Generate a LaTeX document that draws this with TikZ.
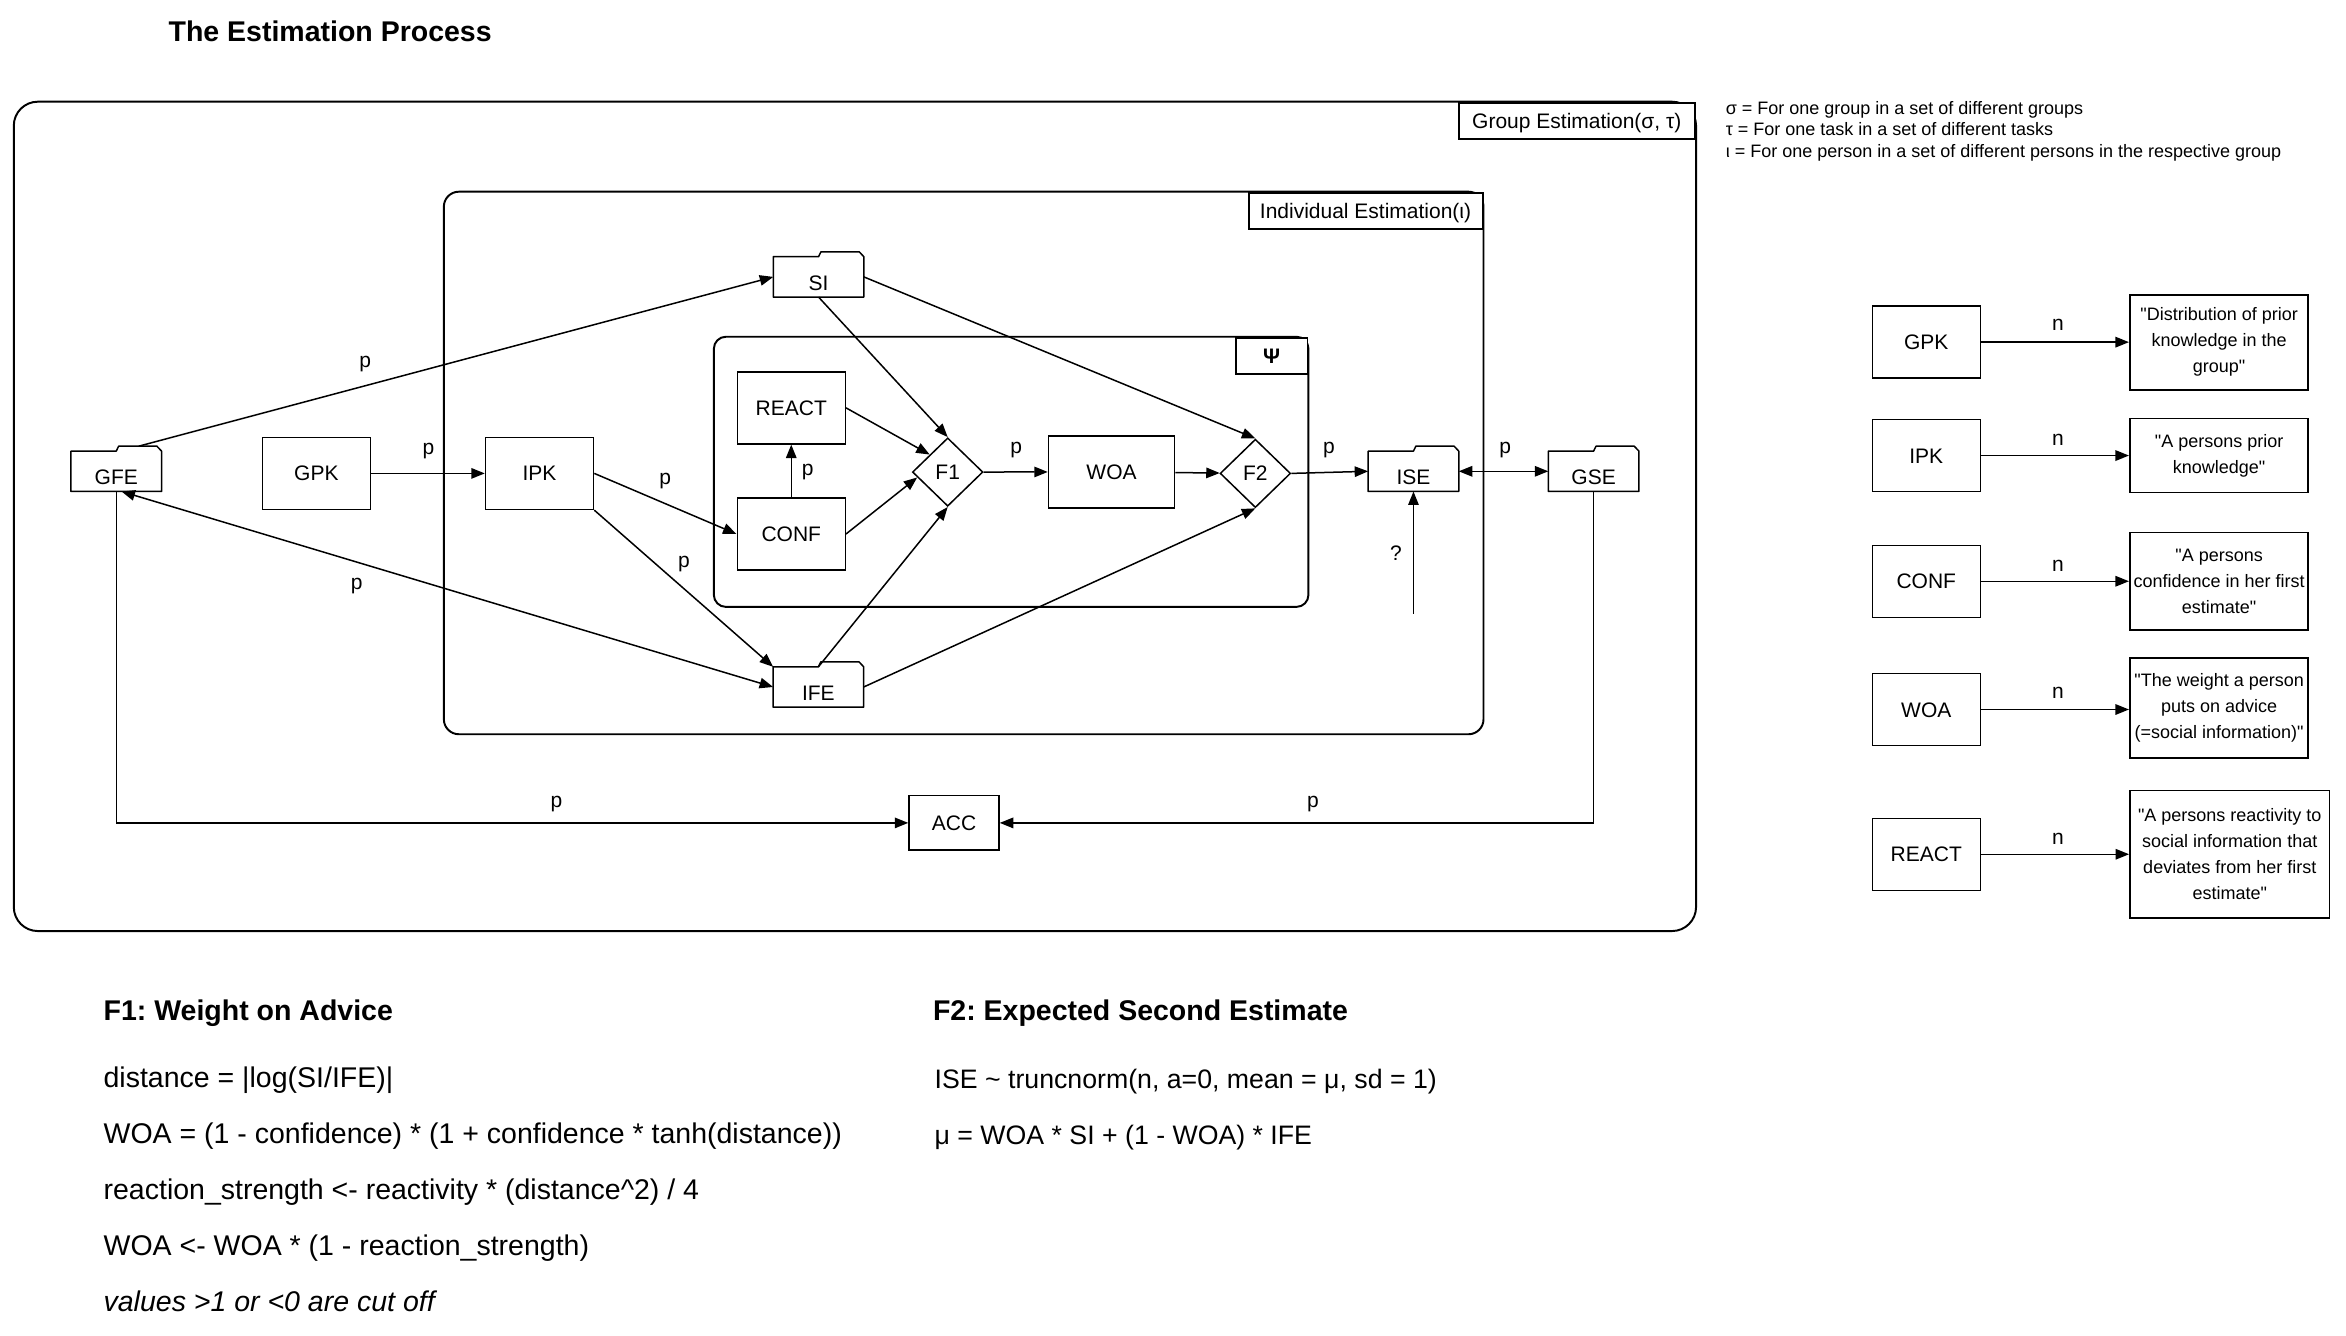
\documentclass[tikz,border=0pt]{standalone}
\usepackage{fontspec}
\setmainfont{Liberation Sans}[Ligatures=TeXOff]
\usetikzlibrary{arrows.meta}
\usetikzlibrary{shapes.geometric}
\frenchspacing

% folder shaped estimate node: name, position, text
\newcommand{\folder}[3]{%
  \node[fold] (#1) at (#2) {#3};
  \draw[line, line join=round] (#1.north west) -- (#1.north)
    -- ([xshift=1.6pt,yshift=3.3pt]#1.north)
    -- ([xshift=-3.1pt,yshift=3.3pt]#1.north east) -- (#1.north east)
    -- (#1.south east) -- (#1.south west) -- cycle;
}

\begin{document}
\begin{tikzpicture}[
  x=1pt, y=-1pt,
  line/.style = {line width=1pt},
  >={Triangle[length=9pt,width=7pt]},
  every node/.style = {font=\fontsize{14}{17}\selectfont},
  box/.style = {draw, line width=1pt, minimum width=72pt, minimum height=48pt,
    inner sep=0pt, text height=10pt, text depth=0pt},
  fold/.style = {minimum width=60pt, minimum height=26.5pt, inner sep=0pt,
    text height=18pt, text depth=0pt},
  decide/.style = {draw, diamond, line width=1pt, minimum width=47pt,
    minimum height=45.6pt, inner sep=0pt},
  frame/.style = {draw, line width=1.3pt},
  tag/.style = {draw, fill=white, line width=1.3pt, anchor=north east,
    minimum height=24.2pt, inner sep=0pt, text height=10pt, text depth=0pt},
  desc/.style = {draw, line width=1.2pt, align=center, inner sep=0pt,
    minimum width=119pt, font=\fontsize{12}{17.4}\selectfont},
  lbl/.style = {anchor=base, inner sep=0pt},
  txt/.style = {anchor=base west, inner sep=0pt, font=\fontsize{19}{23}\selectfont},
  scale=1
]
  \useasboundingbox (0,0) rectangle (1564,890.67);

  \node[anchor=base west, inner sep=0pt, font=\bfseries\fontsize{19}{23}\selectfont]
    (title) at (112.2,27.8) {The Estimation Process};

  % containers
  \draw[frame, rounded corners=16pt] (9.2,67.8) rectangle (1130.7,620.7);
  \node[tag, minimum width=157.7pt] (grpTag) at (1130.7,67.8) {Group Estimation(σ, τ)};
  \draw[frame, rounded corners=10pt] (295.9,127.8) rectangle (989,489.5);
  \node[tag, minimum width=156pt] (indTag) at (989,127.8) {Individual Estimation(ι)};
  \draw[frame, rounded corners=8pt] (475.9,224.5) rectangle (872.3,404.6);
  \node[tag, minimum width=47.8pt, font=\bfseries\fontsize{14}{17}\selectfont]
    (psiTag) at (872.3,224.5) {Ψ};

  % nodes
  \folder{GFE}{77.5,314.2}{GFE}
  \folder{SI}{545.7,184.6}{SI}
  \folder{IFE}{545.6,458}{IFE}
  \folder{ISE}{942.3,314.2}{ISE}
  \folder{GSE}{1062.4,314.2}{GSE}
  \node[box] (GPK) at (210.9,315.6) {GPK};
  \node[box] (IPK) at (359.7,315.6) {IPK};
  \node[box] (REACT) at (527.5,271.9) {REACT};
  \node[box] (CONF) at (527.5,356) {CONF};
  \node[box, minimum width=84pt] (WOA) at (741,314.6) {WOA};
  \node[box, minimum width=60pt, minimum height=36.3pt] (ACC) at (636,548.6) {ACC};
  \node[decide] (F1) at (631.8,314.7) {F1};
  \node[decide] (F2) at (836.9,315.6) {F2};
  \coordinate (qEnd) at (942.3,409);

  % connectors
  \draw[line,->] ([xshift=15pt,yshift=3.3pt]GFE.north) -- (SI.west);
  \draw[line,->] (GPK) -- (IPK);
  \draw[line,->] (IPK.east) -- (CONF.west);
  \draw[line,->] (IPK.south east) -- (IFE.north west);
  \draw[line,<->] ([xshift=3.5pt]GFE.south) -- (IFE.west);
  \draw[line,->] (CONF) -- (REACT);
  \draw[line,->] (REACT.east) -- (F1.north west);
  \draw[line,->] (CONF.east) -- (F1.190);
  \draw[line,->] (SI.south) -- (F1.north);
  \draw[line,->] (IFE.north) -- (F1.south);
  \draw[line,->] (SI.east) -- (F2.north);
  \draw[line,->] (IFE.east) -- (F2.south);
  \draw[line,->] (F1) -- (WOA);
  \draw[line,->] (WOA) -- (F2);
  \draw[line,->] (F2.east) -- (ISE.west);
  \draw[line,<->] (ISE.east) -- (GSE.west);
  \draw[line,->] (qEnd) -- (ISE.south);
  \draw[line,->] (GFE.south) |- (ACC.west);
  \draw[line,->] (GSE.south) |- (ACC.east);

  % edge labels
  \node[lbl] (pGfeSi) at (243.5,245) {p};
  \node[lbl] (pGpkIpk) at (285.7,303) {p};
  \node[lbl] (pIpkConf) at (443.4,322.7) {p};
  \node[lbl] (pIpkIfe) at (456,378) {p};
  \node[lbl] (pGfeIfe) at (237.8,392.7) {p};
  \node[lbl] (pConfReact) at (538.4,317) {p};
  \node[lbl] (pFoneWoa) at (677.5,302.5) {p};
  \node[lbl] (pFtwoIse) at (885.9,302.5) {p};
  \node[lbl] (pIseGse) at (1003.5,302.5) {p};
  \node[lbl] (qMark) at (930.6,373.7) {?};
  \node[lbl] (pGfeAcc) at (371,538.5) {p};
  \node[lbl] (pGseAcc) at (875.3,538.5) {p};

  % legend
  \node[anchor=base west, inner sep=0pt, font=\fontsize{12}{14}\selectfont]
    (legSigma) at (1150.3,76.2) {σ = For one group in a set of different groups};
  \node[anchor=base west, inner sep=0pt, font=\fontsize{12}{14}\selectfont]
    (legTau) at (1150.3,90.5) {τ = For one task in a set of different tasks};
  \node[anchor=base west, inner sep=0pt, font=\fontsize{12}{14}\selectfont]
    (legIota) at (1150.3,104.8) {ι = For one person in a set of different persons in the respective group};

  % variable descriptions
  \node[box] (gpkR) at (1284.2,228.1) {GPK};
  \node[desc, minimum height=63.3pt] (gpkD) at (1479.4,228.1)
    {"Distribution of prior\\knowledge in the\\group"};
  \node[box] (ipkR) at (1284.2,303.7) {IPK};
  \node[desc, minimum height=49.3pt] (ipkD) at (1479.4,303.7)
    {"A persons prior\\knowledge"};
  \node[box] (confR) at (1284.2,387.5) {CONF};
  \node[desc, minimum height=65pt] (confD) at (1479.4,387.5)
    {"A persons\\confidence in her first\\estimate"};
  \node[box] (woaR) at (1284.2,473) {WOA};
  \node[desc, minimum height=67pt] (woaD) at (1479.4,472)
    {"The weight a person\\puts on advice\\(=social information)"};
  \node[box] (reactR) at (1284.2,569.5) {REACT};
  \node[desc, minimum height=85pt, minimum width=133pt] (reactD) at (1486.5,569.5)
    {"A persons reactivity to\\social information that\\deviates from her first\\estimate"};

  \draw[line,->] (gpkR) -- (gpkD);
  \draw[line,->] (ipkR) -- (ipkD);
  \draw[line,->] (confR) -- (confD);
  \draw[line,->] (woaR.east) -- (woaR.east -| woaD.west);
  \draw[line,->] (reactR) -- (reactD);
  \node[lbl] (nGpk) at (1371.9,220) {n};
  \node[lbl] (nIpk) at (1371.9,296.7) {n};
  \node[lbl] (nConf) at (1371.9,381) {n};
  \node[lbl] (nWoa) at (1371.9,465.6) {n};
  \node[lbl] (nReact) at (1371.9,562.9) {n};

  % formulas
  \node[txt, font=\bfseries\fontsize{19}{23}\selectfont] (fOneHead) at (68.9,680.5) {F1: Weight on Advice};
  \node[txt] (fOneA) at (68.9,725) {distance = |log(SI/IFE)|};
  \node[txt] (fOneB) at (68.9,762.3) {WOA = (1 - confidence) * (1 + confidence * tanh(distance))};
  \node[txt] (fOneC) at (68.9,799.6) {reaction\_strength <- reactivity * (distance\textasciicircum 2) / 4};
  \node[txt] (fOneD) at (68.9,836.9) {WOA <- WOA * (1 - reaction\_strength)};
  \node[txt, font=\itshape\fontsize{19}{23}\selectfont] (fOneE) at (68.9,874.2) {values >1 or <0 are cut off};
  \node[txt, font=\bfseries\fontsize{19}{23}\selectfont] (fTwoHead) at (621.8,680.5) {F2: Expected Second Estimate};
  \node[txt, font=\fontsize{17.8}{21}\selectfont] (fTwoA) at (622.9,725.8) {ISE \textasciitilde{} truncnorm(n, a=0, mean = μ, sd = 1)};
  \node[txt, font=\fontsize{17.8}{21}\selectfont] (fTwoB) at (622.9,763.2) {μ = WOA * SI + (1 - WOA) * IFE};

\end{tikzpicture}
\end{document}
